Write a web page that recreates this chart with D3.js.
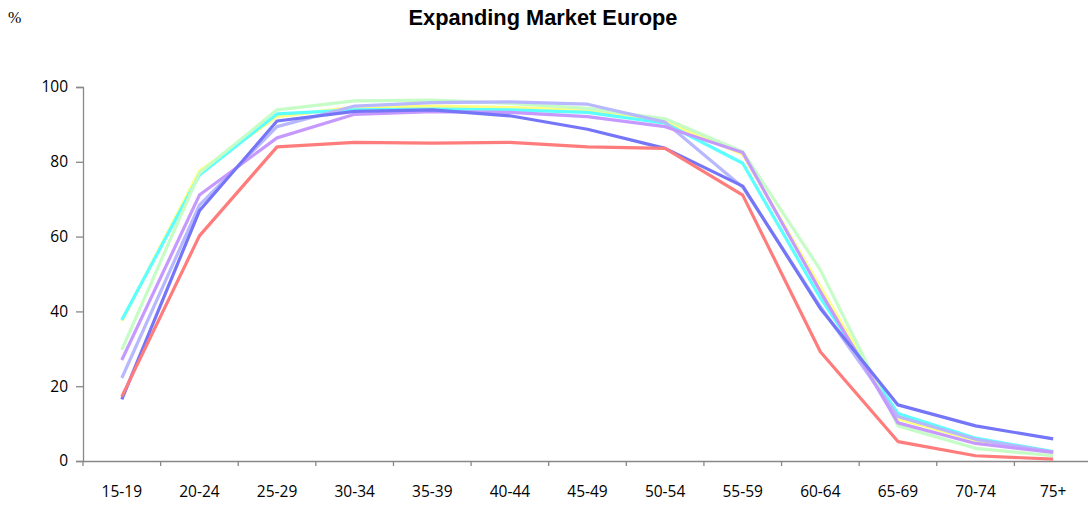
<!DOCTYPE html>
<html>
<head>
<meta charset="utf-8">
<script src="https://cdn.jsdelivr.net/npm/d3@7"></script>
<style>
    body { margin: 0; background: #fff; }
    svg { display: block; }
</style>
</head>
<body>
<div id="chart"></div>
<script>
// Age groups on the x axis
const ageGroups = ["15-19", "20-24", "25-29", "30-34", "35-39", "40-44", "45-49",
    "50-54", "55-59", "60-64", "65-69", "70-74", "75+"];

const yTicks = [0, 20, 40, 60, 80, 100];

// Activity rates (%) per series
const yellowSeries   = [37.4, 77.5, 92.1, 94.6, 94.9, 94.5, 93.9, 90.8, 82.0, 46.5, 11.3, 5.5, 2.2];
const cyanSeries     = [37.7, 76.5, 92.8, 93.9, 94.1, 93.9, 93.2, 90.3, 79.6, 43.6, 12.7, 6.1, 2.5];
const greenSeries    = [29.7, 77.0, 93.9, 96.3, 96.5, 95.6, 94.3, 91.5, 82.7, 51.1, 9.4, 3.4, 1.4];
const lavenderSeries = [22.2, 68.4, 89.4, 94.9, 95.8, 96.0, 95.4, 90.6, 73.2, 41.3, 11.9, 5.8, 2.4];
const purpleSeries   = [27.0, 71.1, 86.4, 92.7, 93.4, 93.2, 92.1, 89.4, 82.5, 45.3, 10.2, 4.7, 2.3];
const blueSeries     = [16.5, 66.9, 90.9, 93.5, 93.9, 92.3, 88.7, 83.6, 73.5, 40.8, 15.0, 9.4, 5.9];
const redSeries      = [17.2, 60.2, 84.0, 85.2, 85.0, 85.2, 84.0, 83.6, 71.1, 29.2, 5.2, 1.4, 0.5];

const seriesList = [
    { values: yellowSeries,   color: "#ffff80" },
    { values: cyanSeries,     color: "#5cffff" },
    { values: greenSeries,    color: "#c6fcc6" },
    { values: lavenderSeries, color: "#b8b8ff" },
    { values: purpleSeries,   color: "#c699ff" },
    { values: blueSeries,     color: "#7575f7" },
    { values: redSeries,      color: "#ff7c7c" }
];

const width = 1088;
const height = 506;
const margin = { top: 87, right: -4, bottom: 45, left: 83 };

const svg = d3.select("#chart")
    .append("svg")
    .attr("width", width)
    .attr("height", height);

const x = d3.scaleBand()
    .domain(ageGroups)
    .range([margin.left, width - margin.right]);

const y = d3.scaleLinear()
    .domain([0, 100])
    .range([height - margin.bottom, margin.top]);

// Title and unit
svg.append("text")
    .attr("x", 543)
    .attr("y", 25)
    .attr("text-anchor", "middle")
    .style("font-family", "'Liberation Sans', Arial, sans-serif")
    .style("font-weight", "bold")
    .style("font-size", "21.8px")
    .text("Expanding Market Europe");

svg.append("text")
    .attr("x", 8)
    .attr("y", 23)
    .style("font-family", "'Liberation Serif', serif")
    .style("font-size", "16px")
    .text("%");

// Y axis
const yAxis = svg.append("g")
    .attr("transform", `translate(${margin.left},0)`)
    .call(d3.axisLeft(y).tickValues(yTicks).tickSize(7).tickPadding(8));

// X axis: ticks sit on the band boundaries
const xAxis = svg.append("g")
    .attr("transform", `translate(0,${y(0)})`)
    .call(d3.axisBottom(x).tickSize(0).tickPadding(25));

xAxis.selectAll(".boundary")
    .data(ageGroups)
    .join("line")
    .attr("class", "boundary")
    .attr("x1", d => x(d))
    .attr("x2", d => x(d))
    .attr("y1", 0)
    .attr("y2", 5);

[yAxis, xAxis].forEach(g => {
    g.select(".domain").attr("stroke", "#888").attr("stroke-width", 1.3);
    g.selectAll("line").attr("stroke", "#888").attr("stroke-width", 1.3);
    g.selectAll("text")
        .attr("fill", "#000")
        .style("font-family", "'Open Sans', sans-serif")
        .style("font-size", "15.5px");
});

// Lines
const line = d3.line()
    .x((d, i) => x(ageGroups[i]) + x.bandwidth() / 2)
    .y(d => y(d));

svg.append("g")
    .selectAll("path")
    .data(seriesList)
    .join("path")
    .attr("d", d => line(d.values))
    .attr("fill", "none")
    .attr("stroke", d => d.color)
    .attr("stroke-width", 3.2)
    .attr("stroke-linejoin", "round");
</script>
</body>
</html>
